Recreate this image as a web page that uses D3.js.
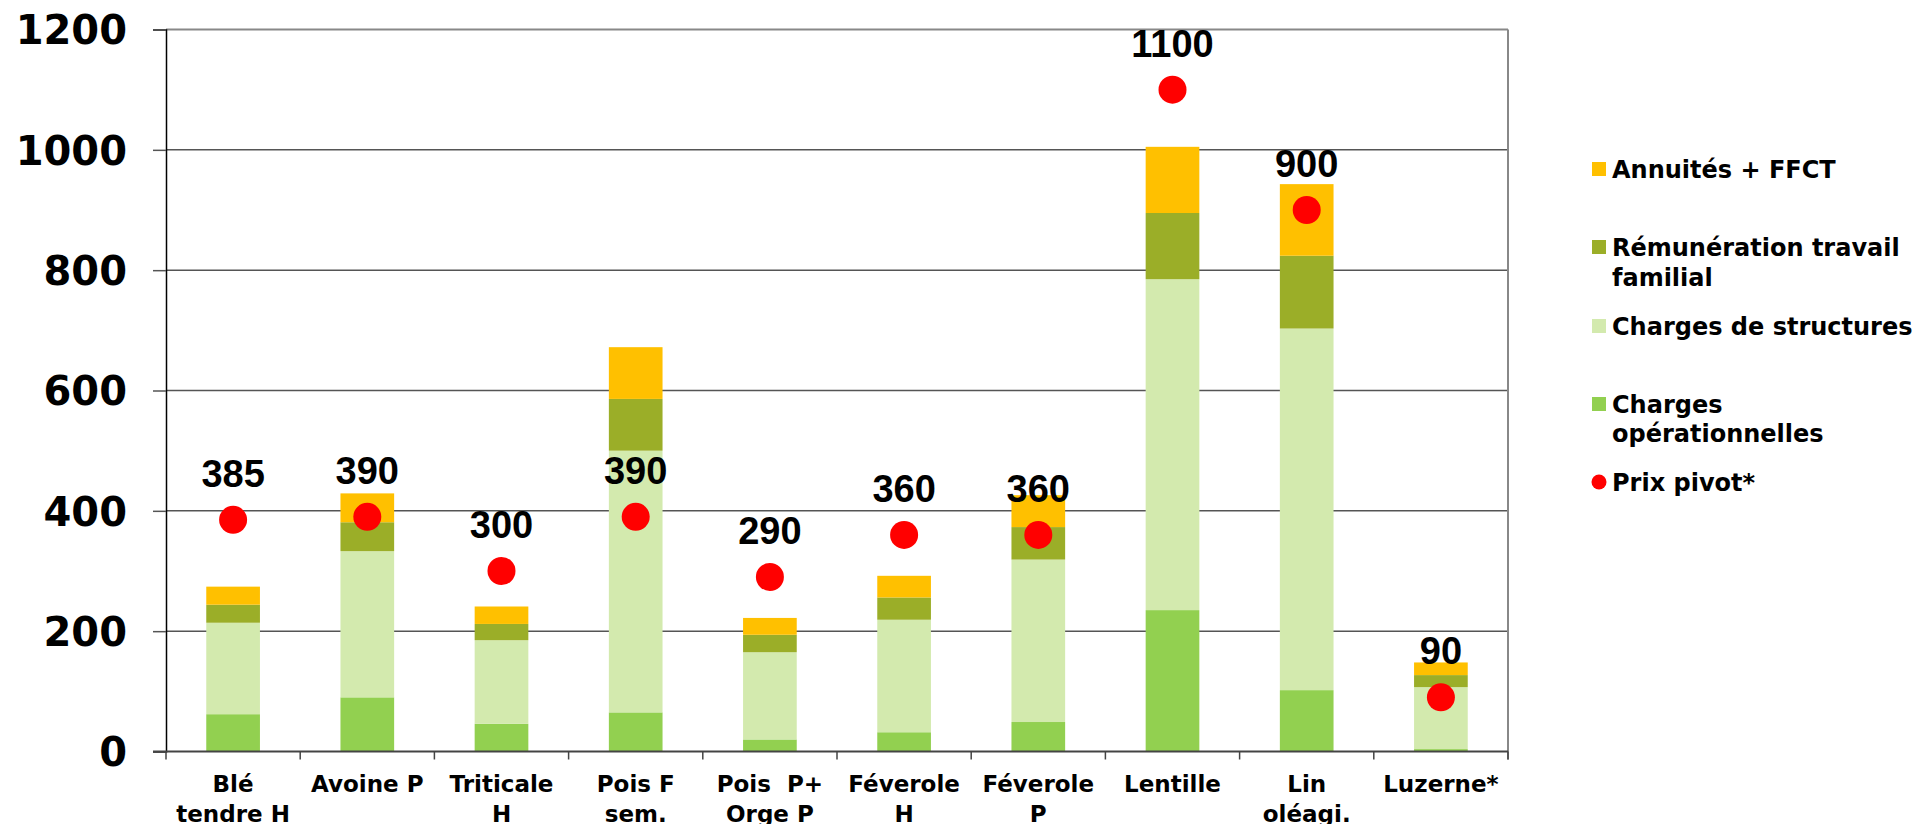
<!DOCTYPE html>
<html>
<head>
<meta charset="utf-8">
<script src="https://cdn.jsdelivr.net/npm/d3@7"></script>
<style>
  body { margin: 0; background: #fff; }
  svg text { fill: #000; }
</style>
</head>
<body>
<svg id="chart" width="1918" height="824"></svg>
<script>
// categories (x labels, "\n" = line break)
var categories = ["Blé\ntendre H", "Avoine P", "Triticale\nH", "Pois F\nsem.", "Pois  P+\nOrge P",
                  "Féverole\nH", "Féverole\nP", "Lentille", "Lin\noléagi.", "Luzerne*"];

// stacked series, bottom to top
var chargesOp     = [62, 90, 46, 65, 20, 32, 49, 235, 102, 4];
var chargesStruct = [152, 243, 139, 435, 145, 187, 270, 550, 601, 103];
var remunTravail  = [30, 48, 27, 86, 29, 37, 54, 110, 121, 20];
var annuites      = [30, 48, 29, 86, 28, 36, 53, 110, 119, 21];

// red points
var prixPivot = [385, 390, 300, 390, 290, 360, 360, 1100, 900, 90];

var yTicks = [0, 200, 400, 600, 800, 1000, 1200];

var seriesNames = ["Charges opérationnelles", "Charges de structures", "Rémunération travail familial", "Annuités + FFCT"];
var seriesKeys = ["op", "struct", "fam", "annu"];
var seriesColors = ["#92D050", "#D3EAAE", "#9BAE28", "#FFC000"];

var rows = categories.map(function(c, i) {
  return { cat: c, op: chargesOp[i], struct: chargesStruct[i], fam: remunTravail[i], annu: annuites[i], prix: prixPivot[i] };
});

var svg = d3.select("#chart");
var plotL = 166, plotR = 1508, plotT = 29.5, plotB = 751.5;

var x = d3.scaleBand().domain(categories).range([plotL, plotR]).padding(0);
var y = d3.scaleLinear().domain([0, 1200]).range([plotB, plotT]);
var barW = x.bandwidth() * 0.4;

// gridlines
svg.append("g").selectAll("line")
  .data(yTicks.filter(function(d) { return d > 0 && d < 1200; }))
  .join("line")
  .attr("x1", plotL).attr("x2", plotR)
  .attr("y1", function(d) { return y(d); }).attr("y2", function(d) { return y(d); })
  .attr("stroke", "#555").attr("stroke-width", 1.5);

// top + right frame
svg.append("line").attr("x1", plotL).attr("x2", plotR).attr("y1", y(1200)).attr("y2", y(1200))
  .attr("stroke", "#888").attr("stroke-width", 2);
svg.append("line").attr("x1", plotR).attr("x2", plotR).attr("y1", plotT).attr("y2", plotB + 8)
  .attr("stroke", "#888").attr("stroke-width", 2);

// stacked bars
var stack = d3.stack().keys(seriesKeys)(rows);
svg.append("g").selectAll("g")
  .data(stack)
  .join("g")
  .attr("fill", function(d, i) { return seriesColors[i]; })
  .selectAll("rect")
  .data(function(d) { return d; })
  .join("rect")
  .attr("x", function(d) { return x(d.data.cat) + (x.bandwidth() - barW) / 2; })
  .attr("width", barW)
  .attr("y", function(d) { return y(d[1]); })
  .attr("height", function(d) { return y(d[0]) - y(d[1]); });

// y axis
var yAxis = svg.append("g")
  .attr("transform", "translate(" + plotL + ",0)")
  .call(d3.axisLeft(y).tickValues(yTicks).tickSize(13).tickPadding(26).tickFormat(d3.format("d")));
yAxis.select(".domain").attr("stroke", "#000").attr("stroke-width", 1.5);
yAxis.selectAll(".tick line").attr("stroke", "#555").attr("stroke-width", 1.5);
yAxis.selectAll("text")
  .attr("font-family", "DejaVu Sans, Verdana, sans-serif")
  .attr("font-weight", "bold")
  .attr("font-size", 40)
  .attr("dy", "0.36em");

// x axis line and boundary ticks
svg.append("line").attr("x1", plotL - 13).attr("x2", plotR).attr("y1", plotB).attr("y2", plotB)
  .attr("stroke", "#444").attr("stroke-width", 2);
svg.append("g").selectAll("line")
  .data(d3.range(categories.length + 1))
  .join("line")
  .attr("x1", function(i) { return plotL + i * x.step(); })
  .attr("x2", function(i) { return plotL + i * x.step(); })
  .attr("y1", plotB).attr("y2", plotB + 8)
  .attr("stroke", "#444").attr("stroke-width", 1.5);

// x labels
var xl = svg.append("g").selectAll("text")
  .data(categories)
  .join("text")
  .attr("x", function(d) { return x(d) + x.bandwidth() / 2; })
  .attr("y", 792)
  .attr("text-anchor", "middle")
  .attr("font-family", "DejaVu Sans, Verdana, sans-serif")
  .attr("font-weight", "bold")
  .attr("font-size", 23)
  .style("white-space", "pre");
xl.selectAll("tspan")
  .data(function(d) { return d.split("\n").map(function(t) { return { t: t, c: d }; }); })
  .join("tspan")
  .attr("x", function(d) { return x(d.c) + x.bandwidth() / 2; })
  .attr("dy", function(d, i) { return i === 0 ? 0 : 29.5; })
  .text(function(d) { return d.t; });

// prix pivot points + labels
svg.append("g").selectAll("circle")
  .data(rows)
  .join("circle")
  .attr("cx", function(d) { return x(d.cat) + x.bandwidth() / 2; })
  .attr("cy", function(d) { return y(d.prix); })
  .attr("r", 14)
  .attr("fill", "#FF0000");

svg.append("g").selectAll("text")
  .data(rows)
  .join("text")
  .attr("x", function(d) { return x(d.cat) + x.bandwidth() / 2; })
  .attr("y", function(d) { return y(d.prix) - 33; })
  .attr("text-anchor", "middle")
  .attr("font-family", "Liberation Sans, Arial, sans-serif")
  .attr("font-weight", "bold")
  .attr("font-size", 38)
  .text(function(d) { return d.prix; });

// legend
var legendItems = [
  { lines: ["Annuités + FFCT"], color: seriesColors[3], cy: 169, base: 178.3 },
  { lines: ["Rémunération travail", "familial"], color: seriesColors[2], cy: 247, base: 256 },
  { lines: ["Charges de structures"], color: seriesColors[1], cy: 326, base: 334.5 },
  { lines: ["Charges", "opérationnelles"], color: seriesColors[0], cy: 404, base: 412.7 },
  { lines: ["Prix pivot*"], color: "#FF0000", cy: 482, base: 490.7, dot: true }
];
var lg = svg.append("g").selectAll("g").data(legendItems).join("g");
lg.filter(function(d) { return !d.dot; }).append("rect")
  .attr("x", 1592).attr("y", function(d) { return d.cy - 7; })
  .attr("width", 14).attr("height", 14)
  .attr("fill", function(d) { return d.color; });
lg.filter(function(d) { return d.dot; }).append("circle")
  .attr("cx", 1599).attr("cy", function(d) { return d.cy; }).attr("r", 7.5)
  .attr("fill", function(d) { return d.color; });
lg.append("text")
  .attr("y", function(d) { return d.base; })
  .attr("font-family", "DejaVu Sans, Verdana, sans-serif")
  .attr("font-weight", "bold")
  .attr("font-size", 24)
  .selectAll("tspan")
  .data(function(d) { return d.lines; })
  .join("tspan")
  .attr("x", 1612)
  .attr("dy", function(d, i) { return i === 0 ? 0 : 29.7; })
  .text(function(d) { return d; });
</script>
</body>
</html>
